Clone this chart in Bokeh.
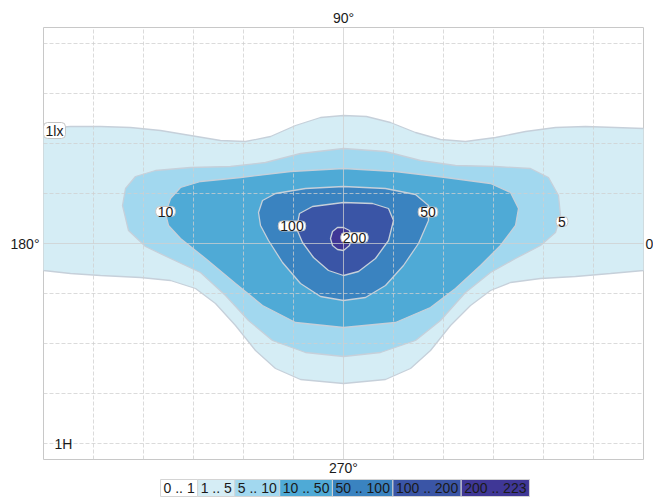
from bokeh.plotting import figure
from bokeh.models import Range1d, Label, Span, FixedTicker, LinearAxis
from bokeh.layouts import column
from bokeh.core.properties import value
from bokeh.embed import file_html
from bokeh.resources import INLINE

FONT = "Liberation Sans"
FS = 14

# ---- isolux contours, in grid units (one unit = one grid cell) ----
lux_levels = [1, 5, 10, 50, 100, 200]

c1_x = [-6.3, -6.0, -5.46, -4.86, -4.26, -3.66, -3.06, -2.46, -1.96, -1.46, -0.96, -0.46, 0.0,
        0.46, 0.94, 1.44, 1.94, 2.44, 3.04, 3.64, 4.24, 4.84, 5.44, 6.0, 6.3,
        6.3, 6.0, 5.34, 4.64, 3.94, 3.34, 2.94, 2.54, 2.14, 1.74, 1.34, 0.84, 0.0,
        -0.86, -1.36, -1.76, -2.16, -2.56, -2.96, -3.46, -4.06, -4.86, -5.46, -6.0, -6.3]
c1_y = [2.30, 2.30, 2.34, 2.34, 2.32, 2.26, 2.16, 2.06, 2.04, 2.14, 2.36, 2.52, 2.56,
        2.54, 2.42, 2.22, 2.08, 2.04, 2.12, 2.24, 2.32, 2.34, 2.32, 2.30, 2.30,
        -0.50, -0.54, -0.60, -0.66, -0.70, -0.78, -0.94, -1.24, -1.64, -2.14, -2.50, -2.72, -2.80,
        -2.72, -2.50, -2.14, -1.64, -1.20, -0.90, -0.74, -0.68, -0.64, -0.60, -0.54, -0.50]

c5_x = [-4.42, -4.36, -4.16, -3.76, -3.06, -2.26, -1.56, -0.86, 0.0, 0.84, 1.54, 2.24, 3.04,
        3.74, 4.10, 4.30, 4.34, 4.24, 3.94, 3.44, 2.94, 2.44, 1.94, 1.44, 0.74, 0.0,
        -0.76, -1.42, -1.90, -2.36, -2.86, -3.46, -3.96, -4.30]
c5_y = [0.76, 1.10, 1.34, 1.46, 1.52, 1.54, 1.62, 1.80, 1.90, 1.84, 1.66, 1.56, 1.54,
        1.50, 1.32, 0.96, 0.56, 0.22, -0.04, -0.30, -0.58, -0.98, -1.54, -1.94, -2.18, -2.26,
        -2.18, -1.94, -1.54, -1.04, -0.58, -0.30, -0.06, 0.26]

c10_x = [-3.56, -3.46, -3.26, -2.86, -2.06, -1.06, 0.0, 1.04, 2.04, 2.94, 3.34, 3.50, 3.44,
         3.14, 2.74, 2.24, 1.74, 1.04, 0.0, -0.96, -1.62, -2.16, -2.76, -3.26, -3.50]
c10_y = [0.60, 0.90, 1.12, 1.24, 1.32, 1.44, 1.50, 1.44, 1.32, 1.20, 1.02, 0.70, 0.36,
         -0.04, -0.44, -0.90, -1.28, -1.58, -1.68, -1.58, -1.24, -0.80, -0.30, 0.10, 0.36]

c50_x = [-1.70, -1.62, -1.36, -0.76, 0.0, 0.84, 1.44, 1.70, 1.70, 1.50, 1.20, 0.84, 0.44, 0.0,
         -0.46, -0.86, -1.22, -1.50, -1.66]
c50_y = [0.62, 0.86, 1.00, 1.10, 1.14, 1.10, 0.98, 0.76, 0.46, 0.00, -0.44, -0.84, -1.08, -1.14,
         -1.06, -0.80, -0.38, 0.06, 0.36]

c100_x = [-0.94, -0.88, -0.62, 0.0, 0.58, 0.90, 1.00, 0.90, 0.64, 0.30, 0.0, -0.30, -0.60, -0.82]
c100_y = [0.30, 0.60, 0.74, 0.82, 0.80, 0.70, 0.46, 0.06, -0.30, -0.56, -0.64, -0.54, -0.28, 0.02]

c200_x = [-0.26, -0.22, -0.12, 0.0, 0.12, 0.16, 0.12, 0.0, -0.12, -0.22]
c200_y = [0.10, 0.24, 0.32, 0.32, 0.26, 0.12, -0.04, -0.14, -0.12, -0.04]

band_labels = ["0 .. 1", "1 .. 5", "5 .. 10", "10 .. 50", "50 .. 100", "100 .. 200", "200 .. 223"]
band_colors = ["#ffffff", "#d5edf5", "#a2d8ef", "#4faad6", "#3a83c0", "#3a55a6", "#3f3796"]

angle_labels = {"above": "90°", "below": "270°", "left": "180°", "right": "0"}

# ---- main isolux chart ----
p = figure(frame_width=600, frame_height=432, x_range=Range1d(-6, 6), y_range=Range1d(-4.32, 4.32),
           x_axis_location=None, y_axis_location=None,
           min_border_left=43, min_border_right=10, min_border_top=27, min_border_bottom=16,
           output_backend="svg", toolbar_location=None)
p.background_fill_color = "white"
p.border_fill_color = "white"
p.outline_line_color = "#c8c8c8"
p.outline_line_width = 1

p.patches(xs=[c1_x, c5_x, c10_x, c50_x, c100_x, c200_x],
          ys=[c1_y, c5_y, c10_y, c50_y, c100_y, c200_y],
          fill_color=band_colors[1:], line_color="#c6d0da", line_width=1.3)

for g, ticks in ((p.xgrid, [-5, -4, -3, -2, -1, 1, 2, 3, 4, 5]),
                 (p.ygrid, [-4, -3, -2, -1, 1, 2, 3, 4])):
    g.ticker = FixedTicker(ticks=ticks)
    g.grid_line_color = "#cfcfcf"
    g.grid_line_alpha = 0.75
    g.grid_line_dash = "4 2"
    g.grid_line_width = 1
    g.level = "annotation"

for dim in ("width", "height"):
    p.add_layout(Span(location=0, dimension=dim, line_color="#cfcfcf",
                      line_alpha=0.75, line_width=1))

# angle labels as axes with a single tick at the centre
standoffs = {"above": 2, "below": 0, "left": 4, "right": 2}
for side, txt in angle_labels.items():
    ax = LinearAxis(ticker=FixedTicker(ticks=[0]), major_label_overrides={0: txt},
                    axis_line_color=None, major_tick_line_color=None,
                    minor_tick_line_color=None, major_tick_in=0, major_tick_out=0,
                    major_label_standoff=standoffs[side],
                    major_label_text_font=FONT, major_label_text_font_size=f"{FS}px",
                    major_label_text_color="#1a1a1a")
    p.add_layout(ax, side)

def box_label(x, y, t):
    p.add_layout(Label(x=x, y=y, text=t, text_align="center", text_baseline="middle",
                       text_font=FONT, text_font_size=f"{FS}px", text_color="#1a1a1a",
                       background_fill_color="white", border_line_color="#c4c4c4",
                       border_line_width=1, border_radius=4,
                       padding=dict(left=2, right=2, top=0, bottom=0)))

box_label(-5.78, 2.26, "1lx")
box_label(-3.56, 0.64, str(lux_levels[2]))
box_label(1.69, 0.63, str(lux_levels[3]))
box_label(-1.03, 0.35, str(lux_levels[4]))
box_label(0.22, 0.12, str(lux_levels[5]))
box_label(4.37, 0.44, str(lux_levels[1]))

p.add_layout(Label(x=-5.6, y=-4.0, text="1H", text_align="center", text_baseline="middle",
                   text_font=FONT, text_font_size=f"{FS}px", text_color="#1a1a1a"))

# ---- legend strip (its frame is aligned with the chart frame: 600 px wide) ----
def text_w(s):
    return sum(0.556 * FS if ch.isdigit() else 0.278 * FS for ch in s)

widths = [text_w(s) + 6 for s in band_labels]
total = sum(widths)
x0 = 301.5 - total / 2
lefts, rights, centers = [], [], []
cur = x0
for w in widths:
    lefts.append(cur)
    rights.append(cur + w)
    centers.append(cur + w / 2)
    cur += w

q = figure(frame_width=600, frame_height=24, x_range=Range1d(0, 600), y_range=Range1d(0, 24),
           x_axis_location=None, y_axis_location=None,
           min_border_left=43, min_border_right=10, min_border_top=0, min_border_bottom=0,
           output_backend="svg", toolbar_location=None)
q.grid.visible = False
q.outline_line_color = None
q.background_fill_color = "white"
q.border_fill_color = "white"
q.quad(left=lefts, right=rights, bottom=6, top=23, fill_color=band_colors,
       line_color="#d4d4d4", line_width=1)
q.text(x=centers, y=[14.5] * len(centers), text=band_labels, text_align="center",
       text_baseline="middle", text_font=value(FONT), text_font_size=f"{FS}px",
       text_color="#1a1a1a")

layout = column(p, q, spacing=0)
open("out.html", "w").write(file_html(layout, INLINE))
